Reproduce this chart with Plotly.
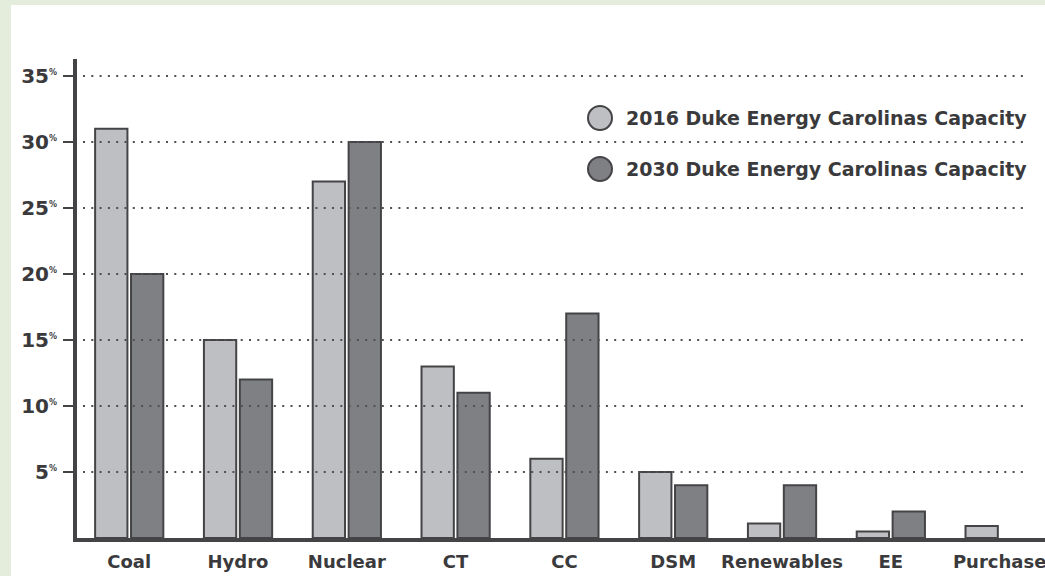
import plotly.graph_objects as go

# Capacity mix by resource type (percent of total)
categories = ["Coal", "Hydro", "Nuclear", "CT", "CC", "DSM", "Renewables", "EE", "Purchase"]
series_names = ["2016 Duke Energy Carolinas Capacity", "2030 Duke Energy Carolinas Capacity"]
cap_2016 = [31, 15, 27, 13, 6, 5, 1.1, 0.5, 0.9]
cap_2030 = [20, 12, 30, 11, 17, 4, 4, 2, 0]
tick_values = [5, 10, 15, 20, 25, 30, 35]
tick_labels = [f"{v}<sup><span style='font-size:8px'>%</span></sup>" for v in tick_values]

W, H = 1045, 576
ML, MR, MT, MB = 77, 0, 59, 38
PW, PH = W - ML - MR, H - MT - MB

LIGHT = "#bebfc3"
DARK = "#7f8084"
EDGE = "#444446"
TEXT = "#3a3a3c"
GREEN = "#e4ecdc"
FONT = "DejaVu Sans"


def px_x(p):
    return (p - ML) / PW


def px_y(p):
    return (H - MB - p) / PH


fig = go.Figure()
for name, vals, col in [(series_names[0], cap_2016, LIGHT), (series_names[1], cap_2030, DARK)]:
    # zero-height bars get no outline
    edge_w = [2 if v > 0 else 0 for v in vals]
    fig.add_trace(go.Bar(
        x=categories, y=vals, name=name, showlegend=False,
        marker=dict(color=col, line=dict(color=EDGE, width=edge_w)),
    ))

shapes = []
# framing strip around the white panel
shapes.append(dict(type="rect", xref="paper", yref="paper", layer="below",
                   x0=px_x(0), x1=px_x(11), y0=px_y(H), y1=px_y(0),
                   fillcolor=GREEN, line=dict(width=0)))
shapes.append(dict(type="rect", xref="paper", yref="paper", layer="below",
                   x0=px_x(0), x1=px_x(W), y0=px_y(5), y1=px_y(0),
                   fillcolor=GREEN, line=dict(width=0)))
# dotted guide lines drawn over the bars
for v in tick_values:
    shapes.append(dict(type="line", xref="paper", yref="y", layer="above",
                       x0=px_x(83), x1=px_x(1026), y0=v, y1=v,
                       line=dict(color="#505052", width=2, dash="2px,6.3px")))

# legend: circle swatches with labels
annotations = []
for i, (name, col) in enumerate([(series_names[0], LIGHT), (series_names[1], DARK)]):
    cy = px_y(118 + 51 * i)
    shapes.append(dict(type="circle", xref="paper", yref="paper", layer="above",
                       xsizemode="pixel", ysizemode="pixel",
                       xanchor=px_x(600), yanchor=cy, x0=-12, x1=12, y0=-12, y1=12,
                       fillcolor=col, line=dict(color=EDGE, width=2)))
    annotations.append(dict(xref="paper", yref="paper", x=px_x(624), y=cy,
                            xanchor="left", yanchor="middle", showarrow=False,
                            text=name, font=dict(family=FONT, size=19, color=TEXT, weight="bold")))

fig.update_layout(
    width=W, height=H,
    margin=dict(l=ML, r=MR, t=MT, b=MB, pad=0),
    paper_bgcolor="white", plot_bgcolor="white",
    barmode="group", bargap=0.34, bargroupgap=0.1,
    shapes=shapes, annotations=annotations,
    font=dict(family=FONT, color=TEXT),
    xaxis=dict(
        range=[-0.48, -0.48 + PW / 108.8],
        showgrid=False, zeroline=False,
        showline=True, linewidth=4, linecolor=EDGE,
        ticks="", ticklabelstandoff=4,
        tickfont=dict(family=FONT, size=18, color=TEXT, weight="bold"),
        fixedrange=True,
    ),
    yaxis=dict(
        range=[0, PH / 13.2],
        showgrid=False, zeroline=False,
        showline=True, linewidth=4, linecolor=EDGE,
        tickvals=tick_values, ticktext=tick_labels,
        ticks="outside", ticklen=10, tickwidth=2, tickcolor=EDGE,
        ticklabelstandoff=2,
        tickfont=dict(family=FONT, size=20, color=TEXT, weight="bold"),
        fixedrange=True,
    ),
)

fig.write_html("out.html", config={"displayModeBar": False})
